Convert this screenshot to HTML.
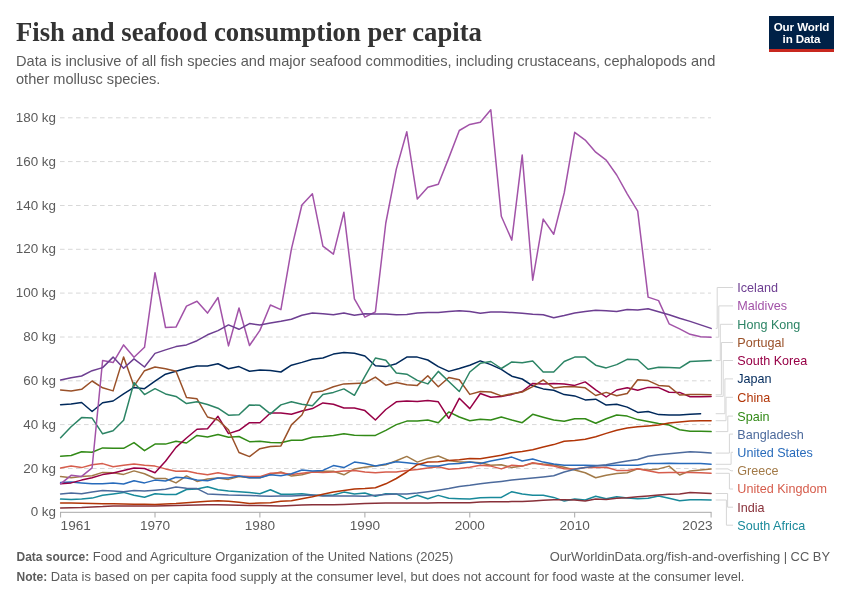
<!DOCTYPE html>
<html><head><meta charset="utf-8"><style>
html,body{margin:0;padding:0;background:#fff;}
body{will-change:transform;width:850px;height:600px;position:relative;overflow:hidden;font-family:"Liberation Sans",sans-serif;}
.title{position:absolute;left:16px;top:16px;font-family:"Liberation Serif",serif;font-weight:bold;font-size:26.7px;color:#333;white-space:nowrap;line-height:32px;}
.sub{position:absolute;left:16px;top:52.2px;font-size:14.6px;color:#5b5b5b;line-height:18px;width:720px;}
.logo{position:absolute;left:769px;top:16px;width:65px;height:36px;background:#002147;border-bottom:3px solid #c8281f;color:#fff;font-weight:bold;font-size:11.6px;line-height:12.2px;text-align:center;padding-top:4.8px;letter-spacing:-0.1px;box-sizing:border-box;}
.foot{position:absolute;left:16.5px;font-size:12.9px;color:#5b5b5b;white-space:nowrap;}
.foot b{color:#5b5b5b;font-size:12px;}
.footr{position:absolute;right:20px;font-size:12.9px;color:#5b5b5b;white-space:nowrap;}
svg{position:absolute;left:0;top:0;}
.ax{font-family:"Liberation Sans",sans-serif;font-size:13.4px;fill:#5b5b5b;}
.axx{font-family:"Liberation Sans",sans-serif;font-size:13.6px;fill:#5b5b5b;}
.lg{font-family:"Liberation Sans",sans-serif;font-size:12.6px;}
</style></head><body>
<div class="title">Fish and seafood consumption per capita</div>
<div class="sub">Data is inclusive of all fish species and major seafood commodities, including crustaceans, cephalopods and other mollusc species.</div>
<div class="logo">Our World<br>in Data</div>
<svg width="850" height="600" viewBox="0 0 850 600">
<line x1="60" y1="468.5" x2="711" y2="468.5" stroke="#d8d8d8" stroke-width="1" stroke-dasharray="4.6,3.4"/>
<line x1="60" y1="424.6" x2="711" y2="424.6" stroke="#d8d8d8" stroke-width="1" stroke-dasharray="4.6,3.4"/>
<line x1="60" y1="380.8" x2="711" y2="380.8" stroke="#d8d8d8" stroke-width="1" stroke-dasharray="4.6,3.4"/>
<line x1="60" y1="337.0" x2="711" y2="337.0" stroke="#d8d8d8" stroke-width="1" stroke-dasharray="4.6,3.4"/>
<line x1="60" y1="293.1" x2="711" y2="293.1" stroke="#d8d8d8" stroke-width="1" stroke-dasharray="4.6,3.4"/>
<line x1="60" y1="249.3" x2="711" y2="249.3" stroke="#d8d8d8" stroke-width="1" stroke-dasharray="4.6,3.4"/>
<line x1="60" y1="205.5" x2="711" y2="205.5" stroke="#d8d8d8" stroke-width="1" stroke-dasharray="4.6,3.4"/>
<line x1="60" y1="161.6" x2="711" y2="161.6" stroke="#d8d8d8" stroke-width="1" stroke-dasharray="4.6,3.4"/>
<line x1="60" y1="117.8" x2="711" y2="117.8" stroke="#d8d8d8" stroke-width="1" stroke-dasharray="4.6,3.4"/>
<text x="56" y="516.4" text-anchor="end" class="ax">0 kg</text>
<text x="56" y="472.6" text-anchor="end" class="ax">20 kg</text>
<text x="56" y="428.7" text-anchor="end" class="ax">40 kg</text>
<text x="56" y="384.9" text-anchor="end" class="ax">60 kg</text>
<text x="56" y="341.1" text-anchor="end" class="ax">80 kg</text>
<text x="56" y="297.2" text-anchor="end" class="ax">100 kg</text>
<text x="56" y="253.4" text-anchor="end" class="ax">120 kg</text>
<text x="56" y="209.6" text-anchor="end" class="ax">140 kg</text>
<text x="56" y="165.7" text-anchor="end" class="ax">160 kg</text>
<text x="56" y="121.9" text-anchor="end" class="ax">180 kg</text>
<line x1="60" y1="512.3" x2="711.5" y2="512.3" stroke="#a8a8a8" stroke-width="1"/>
<line x1="60.6" y1="512.3" x2="60.6" y2="517.5" stroke="#a8a8a8" stroke-width="1"/>
<text x="60.6" y="529.8" text-anchor="start" class="axx">1961</text>
<line x1="155.0" y1="512.3" x2="155.0" y2="517.5" stroke="#a8a8a8" stroke-width="1"/>
<text x="155.0" y="529.8" text-anchor="middle" class="axx">1970</text>
<line x1="259.9" y1="512.3" x2="259.9" y2="517.5" stroke="#a8a8a8" stroke-width="1"/>
<text x="259.9" y="529.8" text-anchor="middle" class="axx">1980</text>
<line x1="364.9" y1="512.3" x2="364.9" y2="517.5" stroke="#a8a8a8" stroke-width="1"/>
<text x="364.9" y="529.8" text-anchor="middle" class="axx">1990</text>
<line x1="469.8" y1="512.3" x2="469.8" y2="517.5" stroke="#a8a8a8" stroke-width="1"/>
<text x="469.8" y="529.8" text-anchor="middle" class="axx">2000</text>
<line x1="574.7" y1="512.3" x2="574.7" y2="517.5" stroke="#a8a8a8" stroke-width="1"/>
<text x="574.7" y="529.8" text-anchor="middle" class="axx">2010</text>
<line x1="711.1" y1="512.3" x2="711.1" y2="517.5" stroke="#a8a8a8" stroke-width="1"/>
<text x="712.6" y="529.8" text-anchor="end" class="axx">2023</text>
<polyline points="715.7,328.4 717.2,328.4 717.2,287.5 733,287.5" fill="none" stroke="#d6d6d6" stroke-width="1"/>
<polyline points="715.7,337.2 718.8,337.2 718.8,305.9 733,305.9" fill="none" stroke="#d6d6d6" stroke-width="1"/>
<polyline points="715.7,360.6 720.3,360.6 720.3,324.3 733,324.3" fill="none" stroke="#d6d6d6" stroke-width="1"/>
<polyline points="715.7,394.8 721.4,394.8 721.4,342.5 733,342.5" fill="none" stroke="#d6d6d6" stroke-width="1"/>
<polyline points="715.7,396.4 723.2,396.4 723.2,360.5 733,360.5" fill="none" stroke="#d6d6d6" stroke-width="1"/>
<polyline points="715.7,413.7 724.9,413.7 724.9,378.9 733,378.9" fill="none" stroke="#d6d6d6" stroke-width="1"/>
<polyline points="715.7,420.7 726.0,420.7 726.0,397.3 733,397.3" fill="none" stroke="#d6d6d6" stroke-width="1"/>
<polyline points="715.7,431.6 727.8,431.6 727.8,416.1 733,416.1" fill="none" stroke="#d6d6d6" stroke-width="1"/>
<polyline points="715.7,453.1 729.4,453.1 729.4,434.1 733,434.1" fill="none" stroke="#d6d6d6" stroke-width="1"/>
<polyline points="715.7,464.3 731.1,464.3 731.1,452.3 733,452.3" fill="none" stroke="#d6d6d6" stroke-width="1"/>
<polyline points="715.7,468.9 728,468.9 731,470.8 733,470.8" fill="none" stroke="#d6d6d6" stroke-width="1"/>
<polyline points="715.7,473.3 729.4,473.3 729.4,489.0 733,489.0" fill="none" stroke="#d6d6d6" stroke-width="1"/>
<polyline points="715.7,493.5 727.6,493.5 727.6,507.2 733,507.2" fill="none" stroke="#d6d6d6" stroke-width="1"/>
<polyline points="715.7,500.0 726.4,500.0 726.4,525.2 733,525.2" fill="none" stroke="#d6d6d6" stroke-width="1"/>
<polyline points="60.6,499.1 71.1,499.6 81.6,499.1 92.1,498.1 102.6,495.2 113.1,493.9 123.6,492.4 134.0,495.2 144.5,497.2 155.0,493.7 165.5,494.5 176.0,494.5 186.5,489.5 197.0,489.1 207.5,486.7 218.0,489.7 228.5,491.0 239.0,491.7 249.5,492.6 259.9,493.7 270.4,489.7 280.9,494.3 291.4,494.3 301.9,493.7 312.4,495.0 322.9,495.4 333.4,495.0 343.9,492.1 354.4,493.9 364.9,493.0 375.4,496.3 385.8,493.7 396.3,493.9 406.8,498.9 417.3,495.2 427.8,498.7 438.3,495.4 448.8,498.3 459.3,498.7 469.8,499.1 480.3,497.8 490.8,497.4 501.3,497.4 511.8,491.7 522.2,493.9 532.7,495.2 543.2,495.2 553.7,497.4 564.2,501.1 574.7,499.1 585.2,500.0 595.7,496.3 606.2,498.7 616.7,496.7 627.2,498.1 637.7,498.7 648.1,498.3 658.6,495.9 669.1,498.3 679.6,500.7 690.1,499.8 700.6,499.8 711.1,500.0" fill="none" stroke="#18899a" stroke-width="1.5" stroke-linejoin="round" stroke-linecap="round"/>
<polyline points="60.6,507.9 71.1,507.7 81.6,507.5 92.1,507.0 102.6,506.6 113.1,505.9 123.6,505.9 134.0,505.9 144.5,505.9 155.0,505.9 165.5,505.7 176.0,505.5 186.5,505.3 197.0,505.1 207.5,504.8 218.0,504.8 228.5,505.1 239.0,505.3 249.5,505.5 259.9,505.5 270.4,505.7 280.9,505.9 291.4,505.5 301.9,505.1 312.4,504.8 322.9,504.8 333.4,504.8 343.9,504.4 354.4,504.0 364.9,503.5 375.4,503.3 385.8,503.1 396.3,503.1 406.8,502.9 417.3,502.9 427.8,502.9 438.3,502.7 448.8,502.7 459.3,502.7 469.8,502.7 480.3,502.0 490.8,501.8 501.3,501.8 511.8,501.6 522.2,501.6 532.7,500.9 543.2,500.2 553.7,499.8 564.2,499.8 574.7,500.0 585.2,501.1 595.7,499.1 606.2,499.4 616.7,498.3 627.2,497.8 637.7,496.7 648.1,495.9 658.6,495.0 669.1,494.3 679.6,493.9 690.1,492.6 700.6,493.0 711.1,493.5" fill="none" stroke="#883039" stroke-width="1.5" stroke-linejoin="round" stroke-linecap="round"/>
<polyline points="60.6,476.6 71.1,477.7 81.6,476.4 92.1,475.7 102.6,472.4 113.1,472.8 123.6,474.4 134.0,470.9 144.5,473.7 155.0,478.5 165.5,478.5 176.0,482.9 186.5,475.9 197.0,481.4 207.5,479.0 218.0,478.1 228.5,479.4 239.0,476.6 249.5,477.7 259.9,477.7 270.4,474.4 280.9,472.0 291.4,476.1 301.9,474.8 312.4,472.0 322.9,471.3 333.4,471.3 343.9,474.8 354.4,468.9 364.9,467.2 375.4,466.1 385.8,464.7 396.3,460.8 406.8,456.4 417.3,462.1 427.8,458.4 438.3,456.0 448.8,460.4 459.3,462.1 469.8,462.1 480.3,462.8 490.8,465.2 501.3,464.7 511.8,467.6 522.2,466.1 532.7,463.2 543.2,464.1 553.7,464.7 564.2,467.2 574.7,470.0 585.2,472.8 595.7,477.7 606.2,475.3 616.7,473.5 627.2,472.8 637.7,468.9 648.1,470.0 658.6,468.9 669.1,466.1 679.6,475.0 690.1,470.9 700.6,470.0 711.1,468.9" fill="none" stroke="#a27a48" stroke-width="1.5" stroke-linejoin="round" stroke-linecap="round"/>
<polyline points="60.6,468.0 71.1,466.1 81.6,467.6 92.1,464.7 102.6,463.6 113.1,466.7 123.6,465.2 134.0,463.9 144.5,465.2 155.0,466.1 165.5,468.9 176.0,471.3 186.5,470.9 197.0,473.3 207.5,474.8 218.0,472.8 228.5,474.8 239.0,476.1 249.5,476.6 259.9,476.6 270.4,473.3 280.9,472.8 291.4,474.4 301.9,473.3 312.4,472.0 322.9,472.4 333.4,472.0 343.9,470.9 354.4,470.4 364.9,472.0 375.4,472.8 385.8,472.0 396.3,472.0 406.8,470.4 417.3,469.6 427.8,468.0 438.3,466.7 448.8,469.3 459.3,468.5 469.8,467.2 480.3,465.2 490.8,466.1 501.3,468.9 511.8,465.2 522.2,466.1 532.7,462.8 543.2,464.7 553.7,466.1 564.2,468.7 574.7,468.9 585.2,467.6 595.7,467.6 606.2,467.2 616.7,470.4 627.2,470.4 637.7,468.7 648.1,470.7 658.6,472.8 669.1,472.4 679.6,472.4 690.1,472.4 700.6,472.8 711.1,473.3" fill="none" stroke="#d65d4c" stroke-width="1.5" stroke-linejoin="round" stroke-linecap="round"/>
<polyline points="60.6,482.5 71.1,482.1 81.6,482.9 92.1,483.8 102.6,483.8 113.1,482.9 123.6,484.0 134.0,480.7 144.5,482.9 155.0,480.1 165.5,481.0 176.0,477.2 186.5,478.1 197.0,480.1 207.5,480.7 218.0,478.1 228.5,478.1 239.0,476.1 249.5,477.7 259.9,477.7 270.4,474.8 280.9,475.7 291.4,473.7 301.9,470.0 312.4,470.9 322.9,470.4 333.4,465.6 343.9,467.6 354.4,462.1 364.9,463.6 375.4,466.1 385.8,464.1 396.3,461.7 406.8,462.8 417.3,464.1 427.8,466.1 438.3,466.1 448.8,464.1 459.3,463.6 469.8,462.1 480.3,463.6 490.8,461.0 501.3,459.0 511.8,457.1 522.2,461.0 532.7,459.0 543.2,462.1 553.7,464.1 564.2,465.2 574.7,465.2 585.2,465.2 595.7,465.4 606.2,465.4 616.7,465.2 627.2,465.2 637.7,465.2 648.1,463.6 658.6,463.6 669.1,463.2 679.6,463.6 690.1,463.6 700.6,463.6 711.1,464.3" fill="none" stroke="#286bbb" stroke-width="1.5" stroke-linejoin="round" stroke-linecap="round"/>
<polyline points="60.6,493.9 71.1,493.0 81.6,493.7 92.1,492.1 102.6,490.4 113.1,491.0 123.6,491.7 134.0,490.4 144.5,491.0 155.0,490.2 165.5,489.3 176.0,487.1 186.5,488.2 197.0,488.6 207.5,493.9 218.0,494.5 228.5,495.0 239.0,495.2 249.5,495.4 259.9,495.9 270.4,496.3 280.9,495.9 291.4,495.9 301.9,495.4 312.4,495.0 322.9,495.9 333.4,495.9 343.9,495.9 354.4,495.9 364.9,496.3 375.4,495.2 385.8,494.5 396.3,493.9 406.8,493.9 417.3,493.0 427.8,491.7 438.3,490.2 448.8,488.6 459.3,486.4 469.8,485.3 480.3,483.8 490.8,482.5 501.3,481.4 511.8,480.1 522.2,479.0 532.7,478.1 543.2,477.0 553.7,475.7 564.2,472.0 574.7,469.3 585.2,467.6 595.7,466.1 606.2,464.7 616.7,462.8 627.2,461.0 637.7,459.5 648.1,456.2 658.6,454.7 669.1,453.8 679.6,452.7 690.1,451.8 700.6,452.2 711.1,453.1" fill="none" stroke="#4c6a9c" stroke-width="1.5" stroke-linejoin="round" stroke-linecap="round"/>
<polyline points="60.6,456.2 71.1,455.5 81.6,451.8 92.1,452.2 102.6,447.9 113.1,448.3 123.6,448.3 134.0,442.6 144.5,450.7 155.0,444.1 165.5,444.1 176.0,441.3 186.5,443.0 197.0,435.4 207.5,436.9 218.0,434.5 228.5,437.3 239.0,436.5 249.5,441.7 259.9,441.3 270.4,442.6 280.9,442.8 291.4,440.2 301.9,440.2 312.4,437.3 322.9,436.5 333.4,435.4 343.9,433.8 354.4,435.2 364.9,435.4 375.4,435.4 385.8,430.3 396.3,424.6 406.8,421.1 417.3,421.1 427.8,420.0 438.3,422.7 448.8,411.9 459.3,417.0 469.8,420.7 480.3,419.2 490.8,420.0 501.3,417.0 511.8,420.0 522.2,422.7 532.7,414.3 543.2,417.2 553.7,420.0 564.2,421.3 574.7,418.7 585.2,418.7 595.7,423.3 606.2,418.7 616.7,415.0 627.2,416.1 637.7,419.6 648.1,421.6 658.6,423.5 669.1,425.1 679.6,429.7 690.1,431.2 700.6,431.2 711.1,431.6" fill="none" stroke="#328a17" stroke-width="1.5" stroke-linejoin="round" stroke-linecap="round"/>
<polyline points="60.6,502.9 71.1,503.1 81.6,503.3 92.1,503.5 102.6,503.8 113.1,503.8 123.6,504.0 134.0,504.2 144.5,504.2 155.0,504.4 165.5,504.0 176.0,503.5 186.5,502.7 197.0,502.0 207.5,501.3 218.0,500.7 228.5,501.3 239.0,502.2 249.5,503.5 259.9,503.1 270.4,502.7 280.9,501.3 291.4,500.7 301.9,498.7 312.4,496.7 322.9,494.3 333.4,492.1 343.9,490.6 354.4,489.1 364.9,488.6 375.4,487.8 385.8,483.8 396.3,478.5 406.8,472.0 417.3,464.7 427.8,462.1 438.3,461.7 448.8,460.4 459.3,459.7 469.8,458.4 480.3,458.8 490.8,457.1 501.3,455.3 511.8,452.7 522.2,451.4 532.7,449.8 543.2,447.0 553.7,444.6 564.2,441.3 574.7,440.6 585.2,439.3 595.7,436.7 606.2,433.4 616.7,430.3 627.2,428.1 637.7,426.8 648.1,425.9 658.6,425.1 669.1,423.1 679.6,422.0 690.1,421.1 700.6,420.7 711.1,420.7" fill="none" stroke="#b13507" stroke-width="1.5" stroke-linejoin="round" stroke-linecap="round"/>
<polyline points="60.6,404.7 71.1,404.0 81.6,402.5 92.1,411.5 102.6,402.7 113.1,401.0 123.6,393.9 134.0,387.4 144.5,388.7 155.0,381.2 165.5,374.2 176.0,371.2 186.5,368.3 197.0,365.9 207.5,366.1 218.0,363.7 228.5,368.7 239.0,366.6 249.5,371.2 259.9,370.1 270.4,370.5 280.9,372.0 291.4,365.2 301.9,362.4 312.4,359.3 322.9,358.0 333.4,354.1 343.9,352.5 354.4,353.2 364.9,356.0 375.4,365.7 385.8,366.6 396.3,363.7 406.8,357.1 417.3,357.1 427.8,360.0 438.3,366.6 448.8,371.4 459.3,368.5 469.8,365.2 480.3,360.9 490.8,364.6 501.3,369.4 511.8,376.2 522.2,379.0 532.7,385.8 543.2,388.9 553.7,390.2 564.2,394.6 574.7,395.9 585.2,399.9 595.7,399.2 606.2,405.1 616.7,404.2 627.2,407.1 637.7,412.4 648.1,411.5 658.6,414.6 669.1,415.0 679.6,415.0 690.1,414.3 700.6,413.7" fill="none" stroke="#00295b" stroke-width="1.5" stroke-linejoin="round" stroke-linecap="round"/>
<polyline points="60.6,483.8 71.1,482.9 81.6,480.1 92.1,477.7 102.6,474.6 113.1,473.1 123.6,470.4 134.0,468.0 144.5,468.5 155.0,472.8 165.5,461.2 176.0,447.4 186.5,438.0 197.0,429.2 207.5,428.8 218.0,416.3 228.5,433.6 239.0,430.3 249.5,422.7 259.9,422.7 270.4,413.0 280.9,413.0 291.4,414.3 301.9,411.0 312.4,408.6 322.9,402.9 333.4,404.2 343.9,408.0 354.4,408.0 364.9,410.6 375.4,420.0 385.8,409.5 396.3,401.8 406.8,401.0 417.3,401.6 427.8,400.5 438.3,401.8 448.8,418.3 459.3,398.3 469.8,408.6 480.3,393.5 490.8,397.2 501.3,396.4 511.8,394.4 522.2,391.5 532.7,383.4 543.2,383.9 553.7,383.4 564.2,383.9 574.7,385.4 585.2,381.9 595.7,389.8 606.2,397.0 616.7,390.0 627.2,387.8 637.7,390.2 648.1,387.4 658.6,387.6 669.1,392.2 679.6,392.4 690.1,396.8 700.6,396.8 711.1,396.4" fill="none" stroke="#970046" stroke-width="1.5" stroke-linejoin="round" stroke-linecap="round"/>
<polyline points="60.6,390.0 71.1,391.1 81.6,389.3 92.1,381.0 102.6,387.8 113.1,390.9 123.6,356.9 134.0,386.1 144.5,370.7 155.0,367.0 165.5,368.7 176.0,371.2 186.5,397.5 197.0,398.8 207.5,417.0 218.0,420.0 228.5,429.7 239.0,452.5 249.5,456.6 259.9,448.7 270.4,446.5 280.9,445.9 291.4,424.9 301.9,415.0 312.4,392.4 322.9,390.9 333.4,386.7 343.9,383.9 354.4,383.4 364.9,383.0 375.4,377.1 385.8,385.2 396.3,382.6 406.8,384.7 417.3,385.4 427.8,375.8 438.3,386.7 448.8,377.5 459.3,379.7 469.8,394.4 480.3,391.5 490.8,392.0 501.3,395.9 511.8,393.7 522.2,392.0 532.7,386.7 543.2,379.9 553.7,388.0 564.2,386.7 574.7,386.7 585.2,387.8 595.7,395.5 606.2,392.4 616.7,395.7 627.2,393.5 637.7,379.7 648.1,380.6 658.6,385.4 669.1,386.3 679.6,395.0 690.1,394.4 700.6,394.6 711.1,394.8" fill="none" stroke="#9a5129" stroke-width="1.5" stroke-linejoin="round" stroke-linecap="round"/>
<polyline points="60.6,437.8 71.1,426.8 81.6,417.6 92.1,418.1 102.6,433.8 113.1,430.8 123.6,420.2 134.0,382.6 144.5,394.6 155.0,388.7 165.5,393.9 176.0,396.4 186.5,403.6 197.0,401.8 207.5,404.5 218.0,408.2 228.5,415.2 239.0,414.8 249.5,404.9 259.9,405.3 270.4,413.9 280.9,404.9 291.4,401.8 301.9,404.2 312.4,405.8 322.9,394.4 333.4,392.4 343.9,388.9 354.4,395.3 364.9,376.4 375.4,358.0 385.8,360.2 396.3,372.9 406.8,374.2 417.3,380.4 427.8,383.9 438.3,371.4 448.8,381.5 459.3,391.5 469.8,372.0 480.3,363.3 490.8,361.5 501.3,368.5 511.8,361.9 522.2,362.8 532.7,361.1 543.2,372.0 553.7,372.0 564.2,361.5 574.7,357.1 585.2,357.1 595.7,365.2 606.2,367.9 616.7,364.6 627.2,359.3 637.7,359.8 648.1,369.2 658.6,367.2 669.1,367.6 679.6,368.1 690.1,361.5 700.6,361.1 711.1,360.6" fill="none" stroke="#2c8465" stroke-width="1.5" stroke-linejoin="round" stroke-linecap="round"/>
<polyline points="60.6,483.8 71.1,475.3 81.6,476.4 92.1,467.8 102.6,360.6 113.1,362.6 123.6,344.9 134.0,357.3 144.5,347.3 155.0,272.7 165.5,327.5 176.0,327.1 186.5,306.1 197.0,301.2 207.5,313.1 218.0,297.5 228.5,345.9 239.0,308.0 249.5,345.5 259.9,330.4 270.4,305.0 280.9,309.6 291.4,249.1 301.9,205.0 312.4,193.8 322.9,246.2 333.4,254.1 343.9,212.3 354.4,298.8 364.9,317.2 375.4,311.8 385.8,223.0 396.3,169.1 406.8,131.8 417.3,199.1 427.8,187.3 438.3,184.2 448.8,157.9 459.3,130.5 469.8,124.4 480.3,122.2 490.8,109.7 501.3,216.2 511.8,240.1 522.2,155.1 532.7,280.2 543.2,219.1 553.7,234.2 564.2,193.0 574.7,132.3 585.2,140.1 595.7,152.2 606.2,160.1 616.7,175.0 627.2,193.8 637.7,211.2 648.1,297.1 658.6,300.6 669.1,323.8 679.6,328.9 690.1,334.3 700.6,336.7 711.1,337.2" fill="none" stroke="#a253a8" stroke-width="1.5" stroke-linejoin="round" stroke-linecap="round"/>
<polyline points="60.6,379.9 71.1,377.7 81.6,376.0 92.1,370.7 102.6,367.6 113.1,357.1 123.6,368.3 134.0,358.9 144.5,367.0 155.0,353.4 165.5,349.9 176.0,346.6 186.5,344.9 197.0,340.7 207.5,334.8 218.0,330.6 228.5,324.9 239.0,329.3 249.5,323.6 259.9,325.1 270.4,322.9 280.9,321.2 291.4,319.2 301.9,315.3 312.4,313.1 322.9,313.7 333.4,314.8 343.9,313.1 354.4,315.3 364.9,313.7 375.4,314.0 385.8,314.0 396.3,314.8 406.8,314.4 417.3,312.9 427.8,312.6 438.3,312.6 448.8,311.5 459.3,310.7 469.8,311.5 480.3,313.3 490.8,312.0 501.3,312.0 511.8,312.6 522.2,313.3 532.7,314.2 543.2,314.8 553.7,317.7 564.2,315.5 574.7,312.9 585.2,311.5 595.7,310.2 606.2,310.7 616.7,311.5 627.2,309.6 637.7,310.0 648.1,308.7 658.6,311.8 669.1,314.8 679.6,318.3 690.1,321.4 700.6,324.9 711.1,328.4" fill="none" stroke="#6d3e91" stroke-width="1.5" stroke-linejoin="round" stroke-linecap="round"/>
<text x="737.3" y="291.9" class="lg" fill="#6d3e91">Iceland</text>
<text x="737.3" y="310.3" class="lg" fill="#a253a8">Maldives</text>
<text x="737.3" y="328.7" class="lg" fill="#2c8465">Hong Kong</text>
<text x="737.3" y="346.9" class="lg" fill="#9a5129">Portugal</text>
<text x="737.3" y="364.9" class="lg" fill="#970046">South Korea</text>
<text x="737.3" y="383.3" class="lg" fill="#00295b">Japan</text>
<text x="737.3" y="401.7" class="lg" fill="#b13507">China</text>
<text x="737.3" y="420.5" class="lg" fill="#328a17">Spain</text>
<text x="737.3" y="438.5" class="lg" fill="#4c6a9c">Bangladesh</text>
<text x="737.3" y="456.7" class="lg" fill="#286bbb">United States</text>
<text x="737.3" y="475.2" class="lg" fill="#a27a48">Greece</text>
<text x="737.3" y="493.4" class="lg" fill="#d65d4c">United Kingdom</text>
<text x="737.3" y="511.6" class="lg" fill="#883039">India</text>
<text x="737.3" y="529.6" class="lg" fill="#18899a">South Africa</text>
</svg>
<div class="foot" style="top:549px"><b>Data source:</b> Food and Agriculture Organization of the United Nations (2025)</div>
<div class="footr" style="top:549px">OurWorldinData.org/fish-and-overfishing | CC BY</div>
<div class="foot" style="top:569px"><b>Note:</b> Data is based on per capita food supply at the consumer level, but does not account for food waste at the consumer level.</div>
</body></html>
